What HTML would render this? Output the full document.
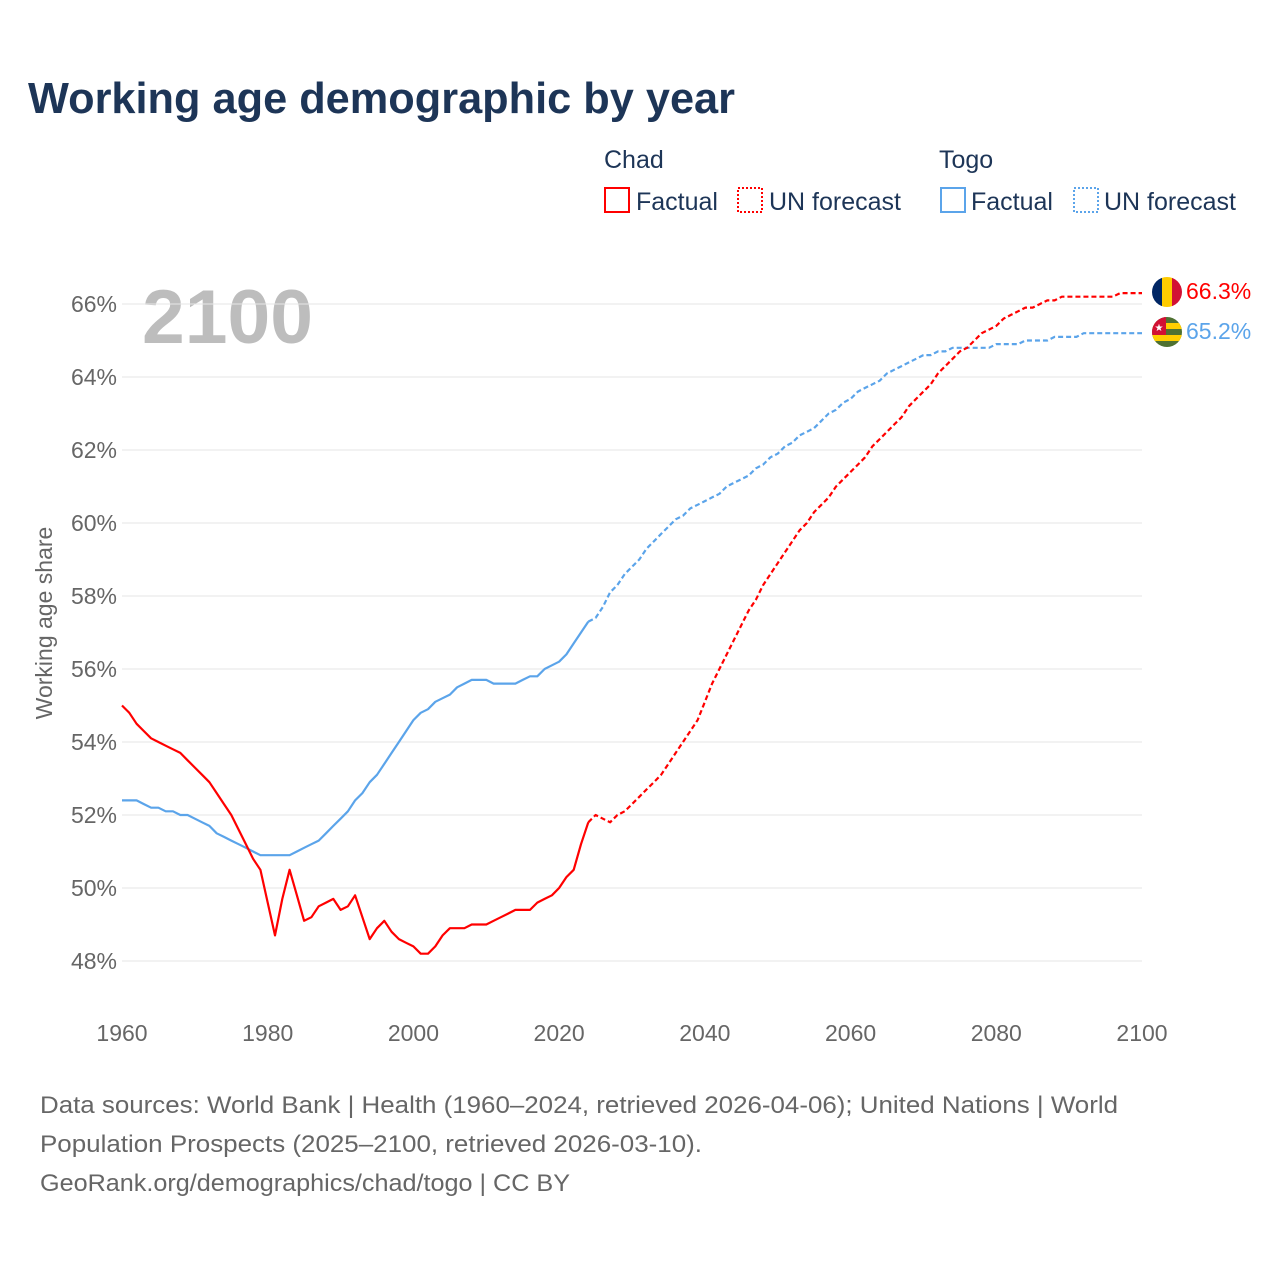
<!DOCTYPE html>
<html><head><meta charset="utf-8"><style>
body{margin:0;background:#fff;font-family:"Liberation Sans",sans-serif;}
svg{display:block}
</style></head><body>
<svg id="chart" width="1280" height="1280" xmlns="http://www.w3.org/2000/svg">
<defs>
<clipPath id="c1"><circle cx="1167" cy="292" r="15"/></clipPath>
<clipPath id="c2"><circle cx="1167" cy="332" r="15"/></clipPath>
</defs>
<text x="28" y="113" font-size="44" font-weight="bold" fill="#1d3557" textLength="707" lengthAdjust="spacingAndGlyphs">Working age demographic by year</text>
<g font-size="25" fill="#1d3557">
<text x="604" y="168">Chad</text>
<text x="939" y="168">Togo</text>
<g><rect x="605" y="188" width="24" height="24" fill="none" stroke="#f00" stroke-width="2"/><text x="636" y="210">Factual</text></g>
<g><rect x="738" y="188" width="24" height="24" fill="none" stroke="#f00" stroke-width="2" stroke-dasharray="2,2"/><text x="769" y="210">UN forecast</text></g>
<g><rect x="941" y="188" width="24" height="24" fill="none" stroke="#5ba4ea" stroke-width="2"/><text x="971" y="210">Factual</text></g>
<g><rect x="1074" y="188" width="24" height="24" fill="none" stroke="#5ba4ea" stroke-width="2" stroke-dasharray="2,2"/><text x="1104" y="210">UN forecast</text></g>
</g>
<text x="142" y="343" font-size="76" font-weight="bold" fill="#bdbdbd" textLength="171" lengthAdjust="spacingAndGlyphs">2100</text>
<g id="grid"></g><g id="yt"></g><g id="xt"></g><g id="lines"></g>
<text transform="translate(52,623) rotate(-90)" text-anchor="middle" font-size="23" fill="#666">Working age share</text>
<g clip-path="url(#c1)"><rect x="1152" y="277" width="10" height="30" fill="#002664"/><rect x="1162" y="277" width="10" height="30" fill="#fecb00"/><rect x="1172" y="277" width="10" height="30" fill="#d21034"/></g>
<g clip-path="url(#c2)"><rect x="1152" y="317" width="30" height="30" fill="#4f7132"/><rect x="1152" y="323" width="30" height="6" fill="#ffce00"/><rect x="1152" y="335" width="30" height="6" fill="#ffce00"/><rect x="1152" y="317" width="14" height="18" fill="#d21034"/><text x="1159" y="331" font-size="10" fill="#fff" text-anchor="middle">★</text></g>
<text x="1186" y="299" font-size="23" fill="#f00">66.3%</text>
<text x="1186" y="339" font-size="23" fill="#5ba4ea">65.2%</text>
<g font-size="24" fill="#666">
<text x="40" y="1113" textLength="1078" lengthAdjust="spacingAndGlyphs">Data sources: World Bank | Health (1960–2024, retrieved 2026-04-06); United Nations | World</text>
<text x="40" y="1152" textLength="662" lengthAdjust="spacingAndGlyphs">Population Prospects (2025–2100, retrieved 2026-03-10).</text>
<text x="40" y="1191" textLength="530" lengthAdjust="spacingAndGlyphs">GeoRank.org/demographics/chad/togo | CC BY</text>
</g>
</svg>
<script>
const yTicks=[48,50,52,54,56,58,60,62,64,66];
const xTicks=[1960,1980,2000,2020,2040,2060,2080,2100];
const chadFactual=[55.0,54.8,54.5,54.3,54.1,54.0,53.9,53.8,53.7,53.5,53.3,53.1,52.9,52.6,52.3,52.0,51.6,51.2,50.8,50.5,49.6,48.7,49.7,50.5,49.8,49.1,49.2,49.5,49.6,49.7,49.4,49.5,49.8,49.2,48.6,48.9,49.1,48.8,48.6,48.5,48.4,48.2,48.2,48.4,48.7,48.9,48.9,48.9,49.0,49.0,49.0,49.1,49.2,49.3,49.4,49.4,49.4,49.6,49.7,49.8,50.0,50.3,50.5,51.2,51.8];
const chadForecast=[51.8,52.0,51.9,51.8,52.0,52.1,52.3,52.5,52.7,52.9,53.1,53.4,53.7,54.0,54.3,54.6,55.1,55.6,56.0,56.4,56.8,57.2,57.6,57.9,58.3,58.6,58.9,59.2,59.5,59.8,60.0,60.3,60.5,60.7,61.0,61.2,61.4,61.6,61.8,62.1,62.3,62.5,62.7,62.9,63.2,63.4,63.6,63.8,64.1,64.3,64.5,64.7,64.8,65.0,65.2,65.3,65.4,65.6,65.7,65.8,65.9,65.9,66.0,66.1,66.1,66.2,66.2,66.2,66.2,66.2,66.2,66.2,66.2,66.3,66.3,66.3,66.3];
const togoFactual=[52.4,52.4,52.4,52.3,52.2,52.2,52.1,52.1,52.0,52.0,51.9,51.8,51.7,51.5,51.4,51.3,51.2,51.1,51.0,50.9,50.9,50.9,50.9,50.9,51.0,51.1,51.2,51.3,51.5,51.7,51.9,52.1,52.4,52.6,52.9,53.1,53.4,53.7,54.0,54.3,54.6,54.8,54.9,55.1,55.2,55.3,55.5,55.6,55.7,55.7,55.7,55.6,55.6,55.6,55.6,55.7,55.8,55.8,56.0,56.1,56.2,56.4,56.7,57.0,57.3];
const togoForecast=[57.3,57.4,57.7,58.1,58.3,58.6,58.8,59.0,59.3,59.5,59.7,59.9,60.1,60.2,60.4,60.5,60.6,60.7,60.8,61.0,61.1,61.2,61.3,61.5,61.6,61.8,61.9,62.1,62.2,62.4,62.5,62.6,62.8,63.0,63.1,63.3,63.4,63.6,63.7,63.8,63.9,64.1,64.2,64.3,64.4,64.5,64.6,64.6,64.7,64.7,64.8,64.8,64.8,64.8,64.8,64.8,64.9,64.9,64.9,64.9,65.0,65.0,65.0,65.0,65.1,65.1,65.1,65.1,65.2,65.2,65.2,65.2,65.2,65.2,65.2,65.2,65.2];
const NS='http://www.w3.org/2000/svg';
const X=y=>122+(y-1960)*(1020/140);
const Y=v=>304+(66-v)*36.5;
function mk(t,a,p){const e=document.createElementNS(NS,t);for(const k in a)e.setAttribute(k,a[k]);document.getElementById(p).appendChild(e);return e;}
yTicks.forEach(v=>{
 const l=mk('line',{x1:122,x2:1142,y1:Y(v),y2:Y(v),stroke:'#e6e6e6','stroke-width':1},'grid');
 
 
 const t=mk('text',{x:117,y:Y(v)+8,'text-anchor':'end','font-size':23,fill:'#666'},'yt');t.textContent=v+'%';
 
 
});
xTicks.forEach(v=>{
 const t=mk('text',{x:X(v),y:1041,'text-anchor':'middle','font-size':23,fill:'#666'},'xt');t.textContent=v;
 
 
});
function line(arr,start,col,dash,name){
 const d=arr.map((v,i)=>(i?'L':'M')+X(start+i).toFixed(1)+','+Y(v).toFixed(1)).join('');
 const p=mk('path',{d:d,fill:'none',stroke:col,'stroke-width':2.2,'stroke-linejoin':'round'},'lines');
 if(dash)p.setAttribute('stroke-dasharray','5,3');
 
 
}
line(togoFactual,1960,'#5ba4ea',false,'togo-factual-line');
line(togoForecast,2024,'#5ba4ea',true,'togo-forecast-line');
line(chadFactual,1960,'#f00',false,'chad-factual-line');
line(chadForecast,2024,'#f00',true,'chad-forecast-line');
</script>
</body></html>
